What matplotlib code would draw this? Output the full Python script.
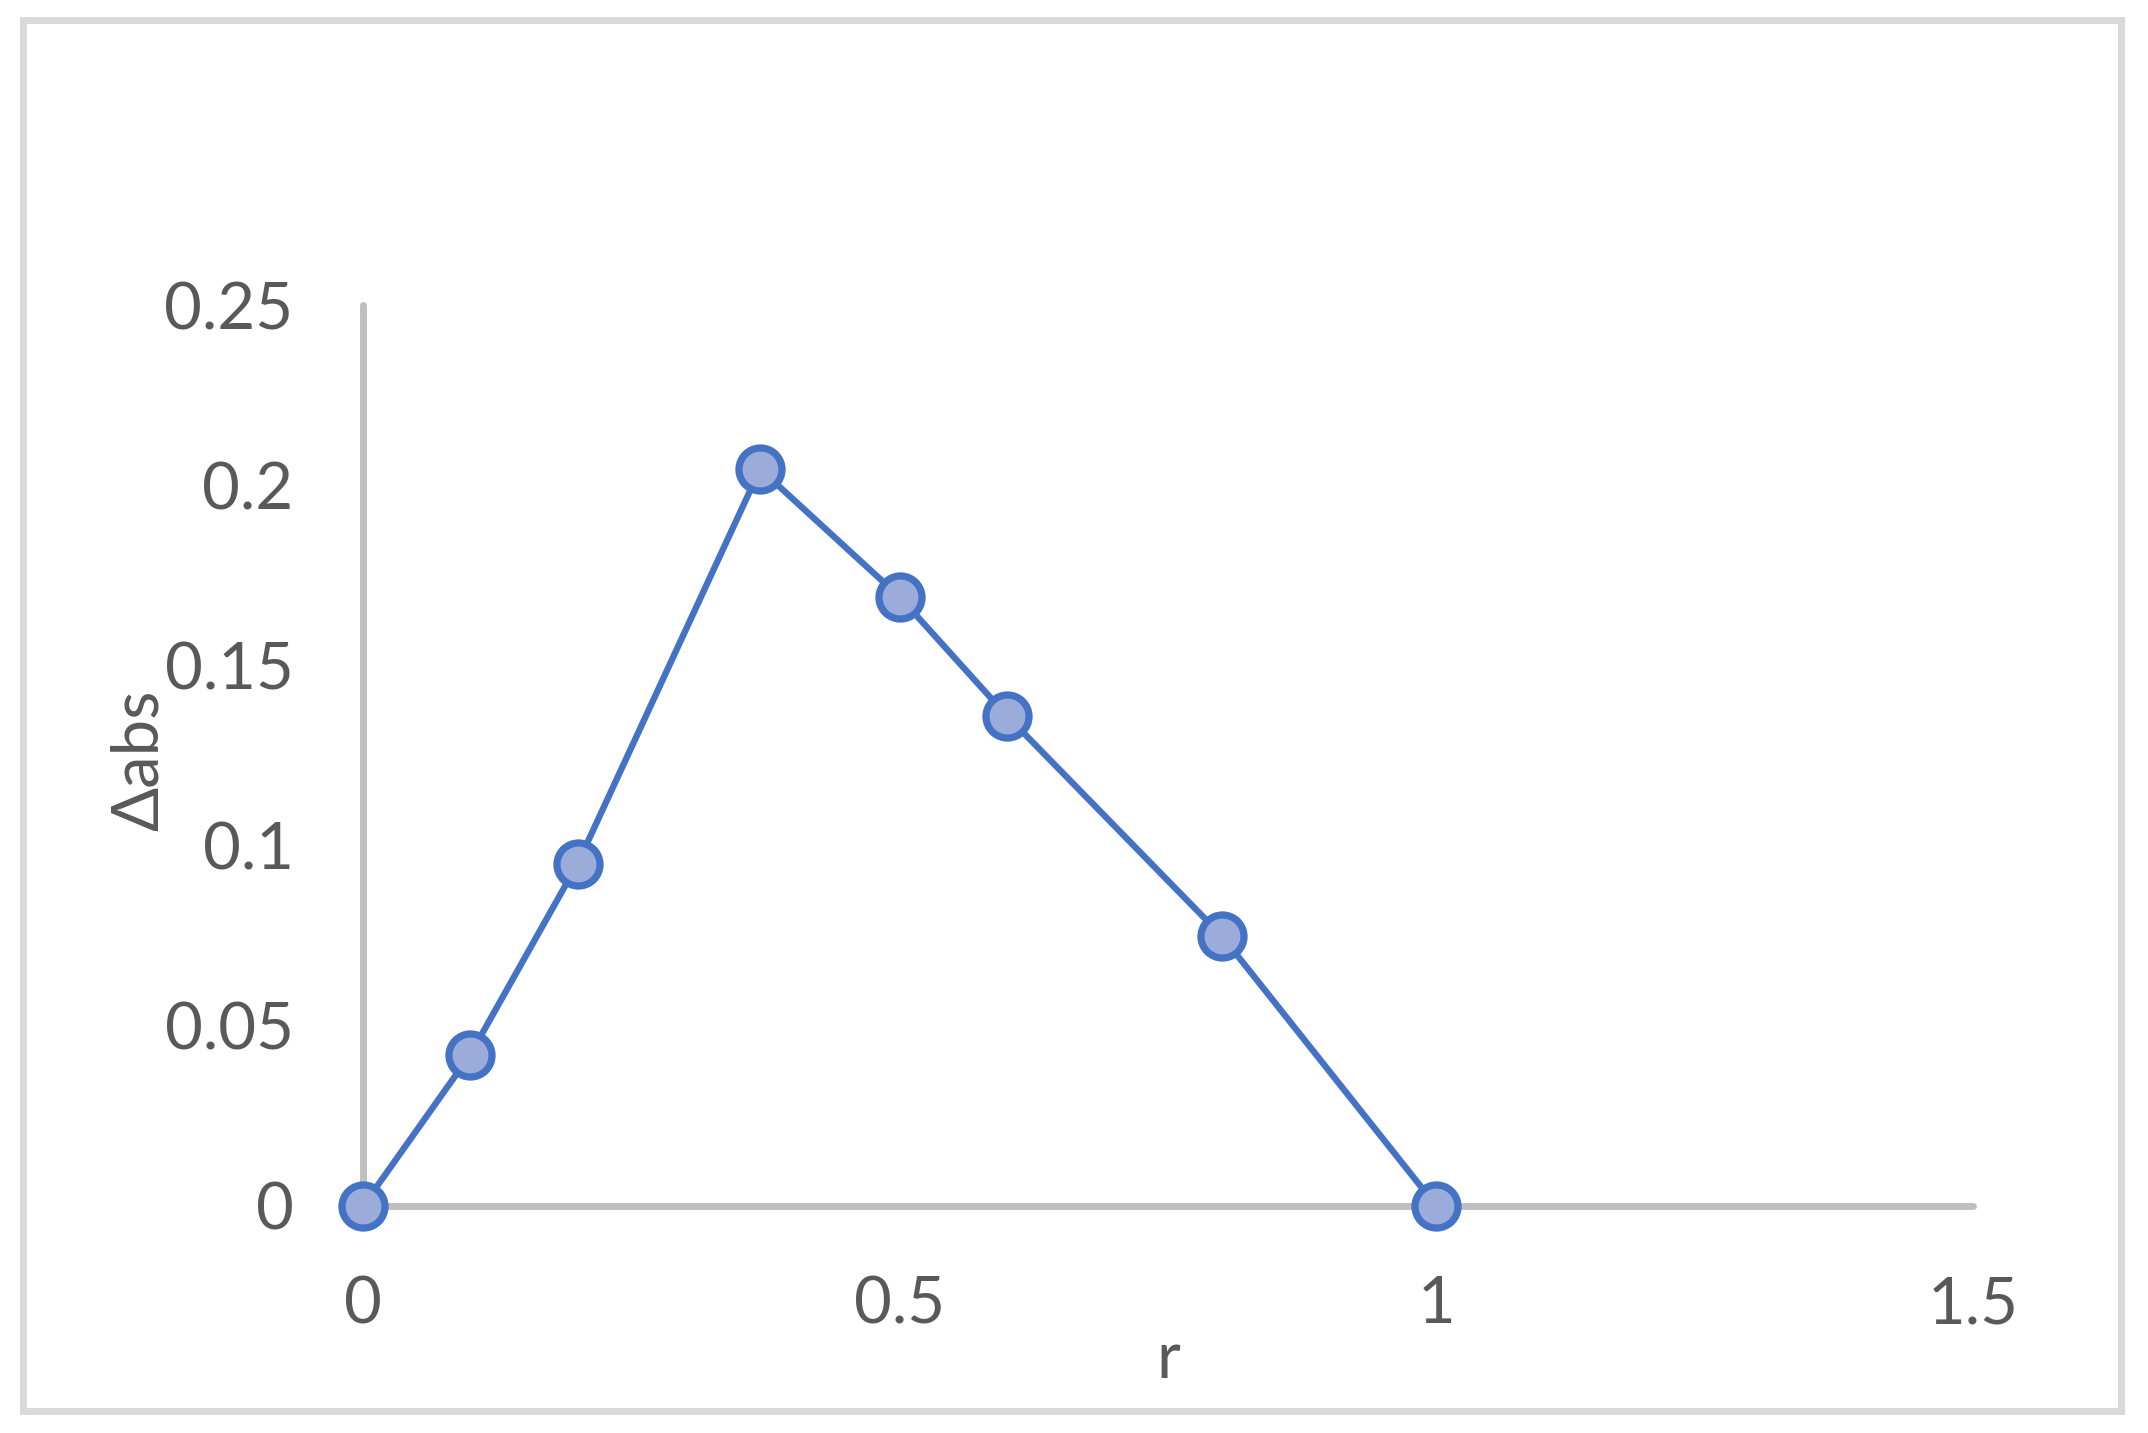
import matplotlib.pyplot as plt
from matplotlib.patches import Rectangle

# delta abs vs r
r = [0.0, 0.1, 0.2, 0.37, 0.5, 0.6, 0.8, 1.0]
dabs = [0.0, 0.042, 0.095, 0.2045, 0.169, 0.136, 0.075, 0.0]

xticks = [0, 0.5, 1, 1.5]
xlabels = ["0", "0.5", "1", "1.5"]
yticks = [0, 0.05, 0.1, 0.15, 0.2, 0.25]
ylabels = ["0", "0.05", "0.1", "0.15", "0.2", "0.25"]

plt.rcParams["font.family"] = ["Lato", "DejaVu Sans"]

W, H = 2148, 1433
fig = plt.figure(figsize=(W / 100, H / 100), dpi=100)
ax = fig.add_axes([363 / W, 1 - 1206 / H, (1973 - 363) / W, (1206 - 305) / H])

ax.plot(r, dabs, color="#4472C4", lw=4.6, marker="o", ms=31,
        mfc="#9BACDA", mec="#4472C4", mew=5.2, clip_on=False, zorder=5)

ax.set_xlim(0, 1.5)
ax.set_ylim(0, 0.25)
ax.set_xticks(xticks)
ax.set_xticklabels(xlabels)
ax.set_yticks(yticks)
ax.set_yticklabels(ylabels)
ax.tick_params(length=0, labelsize=47, labelcolor="#595959")
ax.tick_params(axis="x", pad=50)
ax.tick_params(axis="y", pad=50)

for s in ["top", "right"]:
    ax.spines[s].set_visible(False)
for s in ["left", "bottom"]:
    ax.spines[s].set_color("#BFBFBF")
    ax.spines[s].set_linewidth(5)
    ax.spines[s].set_capstyle("round")

fig.text(1168 / W, 1 - 1378 / H, "r", ha="center", va="baseline",
         fontsize=47, color="#595959")
fig.text(139 / W, 1 - 760 / H, "Δabs", ha="center", va="center",
         rotation=90, fontsize=47, color="#595959")

fig.patches.append(Rectangle((23 / W, 1 - 1411 / H), (2121 - 23) / W, (1411 - 20) / H,
                             transform=fig.transFigure, fill=False,
                             edgecolor="#D9D9D9", lw=5))

plt.savefig("out.png", dpi=100)
